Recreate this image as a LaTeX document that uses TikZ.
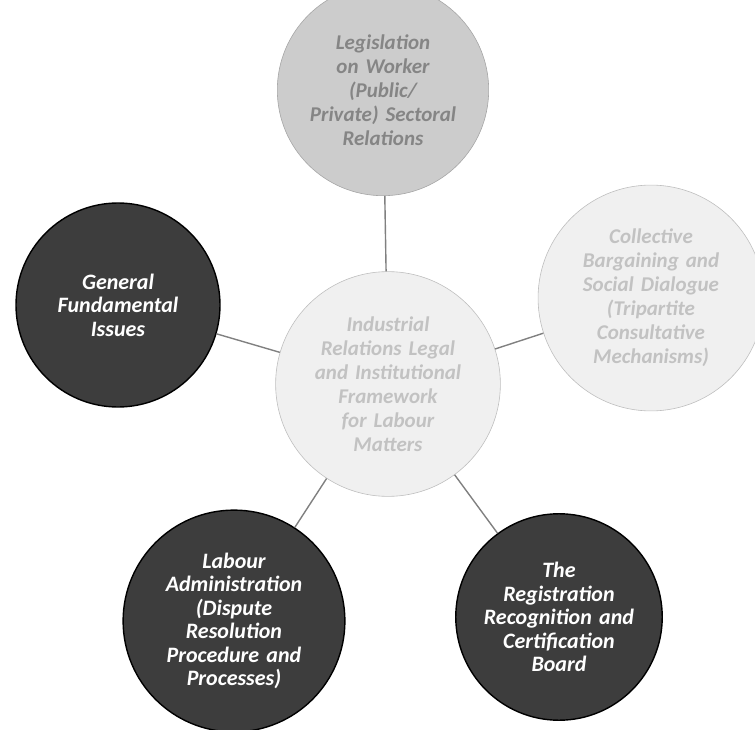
\documentclass[tikz,border=0pt]{standalone}
\usepackage{fontspec}
\setmainfont{Carlito}
\begin{document}
\begin{tikzpicture}[x=1pt,y=-1pt,
  darkc/.style={circle,draw=black,line width=1.4pt,fill=black!76,minimum size=204pt,inner sep=0pt,
    text=white,font=\fontsize{22}{23.5}\selectfont\bfseries\itshape,align=center,text width=175pt},
  faintc/.style={circle,draw=black!25,line width=0.6pt,fill=black!6,minimum size=202pt,inner sep=0pt,
    text=black!24,font=\fontsize{21}{24}\selectfont\bfseries\itshape,align=center,text width=180pt},
  topc/.style={faintc,fill=black!20,draw=black!35,text=black!48},
  link/.style={draw=black!50,line width=1.4pt}]
\useasboundingbox (0,0) rectangle (755,730);
\node[faintc] (hub) at (388,384) {Industrial\\Relations Legal\\and Institutional\\Framework\\for Labour\\Matters};
\node[topc] (top) at (383,90) {Legislation\\on Worker\\(Public/\\Private) Sectoral\\Relations};
\node[faintc] (right) at (651,298) {Collective\\Bargaining and\\Social Dialogue\\(Tripartite\\Consultative\\Mechanisms)};
\node[darkc] (left) at (118,305) {General\\Fundamental\\Issues};
\node[darkc] (bl) at (234,621) {Labour\\Administration\\(Dispute\\Resolution\\Procedure and\\Processes)};
\node[darkc] (br) at (559,617) {The\\Registration\\Recognition and\\Certification\\Board};
\draw[link] (hub) -- (top);
\draw[link] (hub) -- (right);
\draw[link] (hub) -- (left);
\draw[link] (hub) -- (bl);
\draw[link] (hub) -- (br);
\end{tikzpicture}
\end{document}
